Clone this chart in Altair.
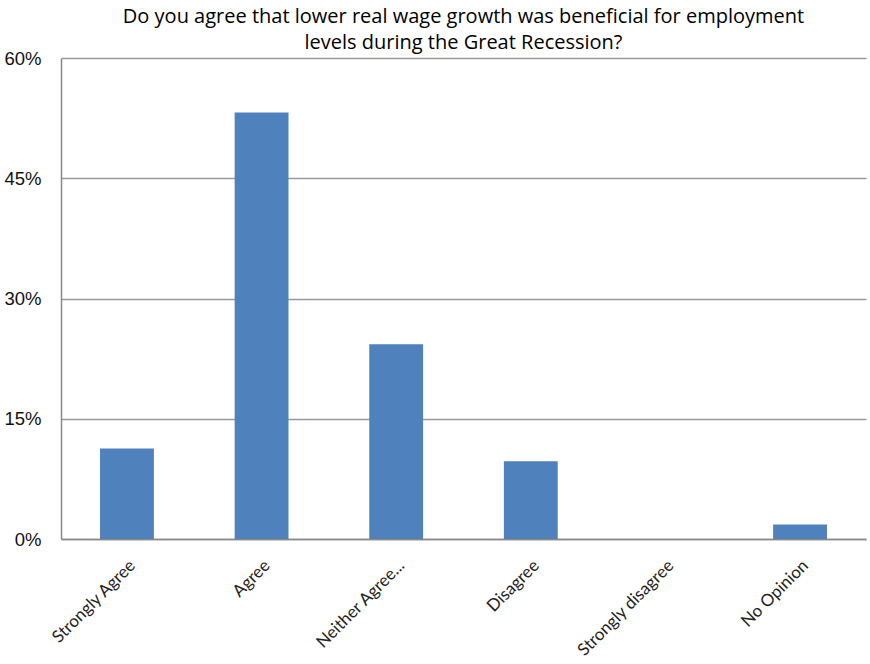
import altair as alt
import pandas as pd

categories = ["Strongly Agree", "Agree", "Neither Agree...", "Disagree", "Strongly disagree", "No Opinion"]
shares = [0.113, 0.532, 0.243, 0.097, 0.0, 0.018]
y_ticks = [0, 0.15, 0.30, 0.45, 0.60]

df = pd.DataFrame({"category": categories, "share": shares})

chart = alt.Chart(df).mark_bar(color="#4F81BD").encode(
    x=alt.X("category:N", sort=categories, title=None,
            scale=alt.Scale(paddingInner=0.6, paddingOuter=0.29),
            axis=alt.Axis(labelAngle=-45, labelFont="Lato", labelFontSize=17,
                          labelColor="#222", ticks=False, domainColor="#888",
                          domainWidth=1.5, labelPadding=18, grid=False)),
    y=alt.Y("share:Q", title=None,
            scale=alt.Scale(domain=[0, 0.6], nice=False),
            axis=alt.Axis(values=y_ticks, format=".0%", labelFont="Liberation Sans",
                          labelFontSize=18.5, labelColor="#111", ticks=False,
                          labelPadding=20, domainColor="#888", domainWidth=1.5,
                          gridColor="#999", gridWidth=1.3)),
).properties(
    width=805, height=481,
    title=alt.TitleParams(
        ["Do you agree that lower real wage growth was beneficial for employment",
         "levels during the Great Recession?"],
        font="Open Sans", fontSize=20, fontWeight="normal", color="#000",
        anchor="middle", lineHeight=26, offset=-4),
    autosize=alt.AutoSizeParams(type="none"),
    padding={"left": 61, "top": 58, "right": 4, "bottom": 125},
).configure_view(stroke=None)

chart.save("out.html", embed_options={"renderer": "svg", "actions": False})
